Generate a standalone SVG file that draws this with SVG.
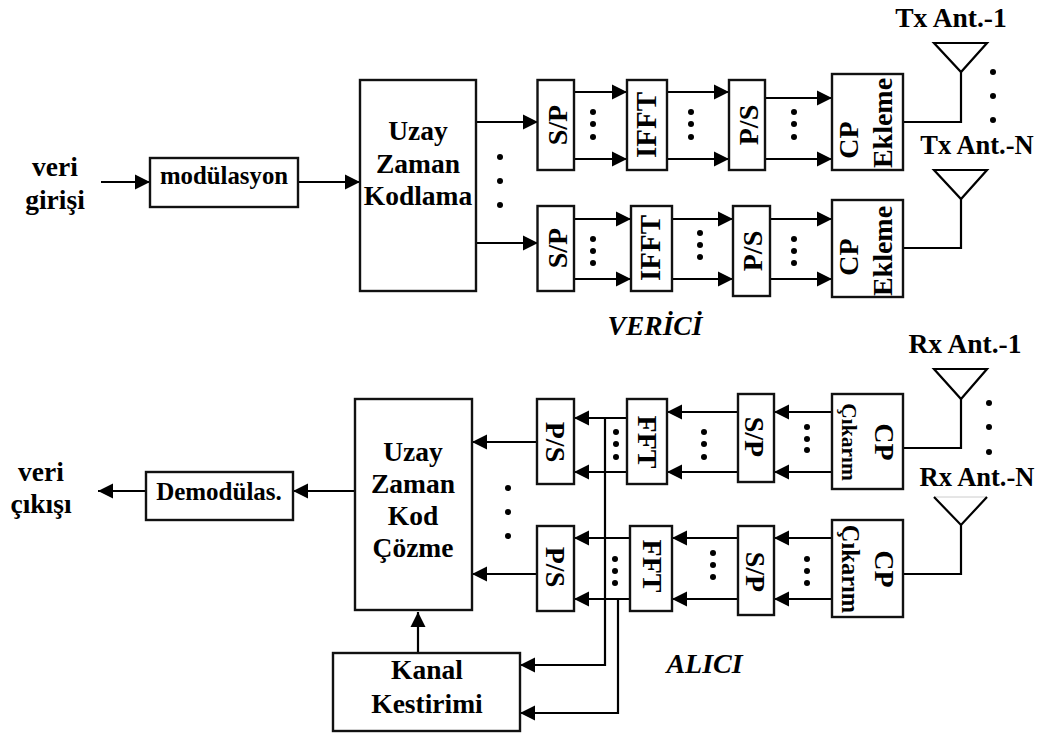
<svg xmlns="http://www.w3.org/2000/svg" width="1044" height="734" viewBox="0 0 1044 734">
<style>
text{font-family:"Liberation Serif","Times New Roman",serif;font-weight:bold;fill:#000;text-anchor:middle}
.b{fill:#fff;stroke:#111;stroke-width:2.4}
.l{fill:none;stroke:#000;stroke-width:2.2}
.a{marker-end:url(#ah)}
.t{font-size:27.500px}.r{font-size:28px}.v{font-size:27.500px}
.i{font-style:italic;font-size:27.500px}
.d{fill:#000}
</style>
<defs><marker id="ah" markerUnits="userSpaceOnUse" markerWidth="16" markerHeight="16" refX="15" refY="8" orient="auto"><path d="M0 0.500L15 8L0 15.500Z"/></marker></defs>
<rect width="1044" height="734" fill="#fff"/>
<g id="connectors">
<path class="l a" d="M101 182H150"/><path class="l a" d="M298 182H360"/>
<path class="l a" d="M476 122H538"/><path class="l a" d="M476 243H538"/>
<path class="l a" d="M574 92H627"/><path class="l a" d="M574 159H627"/><path class="l a" d="M667 92H729"/><path class="l a" d="M667 159H729"/><path class="l a" d="M765 98H832"/><path class="l a" d="M765 159H832"/>
<path class="l a" d="M574 219H631"/><path class="l a" d="M574 279H631"/><path class="l a" d="M672 219H733"/><path class="l a" d="M672 279H733"/><path class="l a" d="M770 219H832"/><path class="l a" d="M770 279H832"/>
<path class="l" d="M903 122H961V72M903 248H961V199"/>
<path class="l a" d="M832 412H774"/><path class="l a" d="M832 472H774"/><path class="l a" d="M738 412H667"/><path class="l a" d="M738 472H667"/><path class="l a" d="M627 418H574"/><path class="l a" d="M627 472H574"/>
<path class="l a" d="M832 538H774"/><path class="l a" d="M832 599H774"/><path class="l a" d="M738 538H672"/><path class="l a" d="M738 599H672"/><path class="l a" d="M630 538H574"/><path class="l a" d="M630 599H574"/>
<path class="l a" d="M537 442H472"/><path class="l a" d="M537 574H472"/>
<path class="l a" d="M355 491H293"/><path class="l a" d="M146 491H98"/>
<path class="l a" d="M605 418V665H520"/><path class="l a" d="M618 599V713H520"/><path class="l a" d="M418 653V612"/>
<path class="l" d="M903 448H961V399M903 574H961V525"/>
</g>
<g id="ant-tx1"><path class="l" d="M934 43H987L961 72Z"/><text class="t" x="951" y="27">Tx Ant.-1</text></g>
<g id="ant-txn"><path class="l" d="M934 170H987L961 199Z"/><text class="t" style="font-size:26.500px" x="977" y="154">Tx Ant.-N</text></g>
<g id="ant-rx1"><path class="l" d="M934 369H987L961 399Z"/><text class="t" x="965" y="353">Rx Ant.-1</text></g>
<g id="ant-rxn"><path d="M934 497H987" fill="none" stroke="#ccc" stroke-width="1"/><path class="l" d="M934 497L961 525L987 497"/><text class="t" style="font-size:26.500px" x="977" y="486">Rx Ant.-N</text></g>
<g id="veri-girisi"><text class="v" x="55" y="176">veri</text><text class="v" x="55" y="209">girişi</text></g>
<g id="modulasyon"><rect class="b" x="150" y="158" width="148" height="49"/><text x="224" y="184" style="font-size:24.800px">modülasyon</text></g>
<g id="uzay-kod"><rect class="b" x="360" y="80" width="116" height="211"/><text class="t" x="418" y="140">Uzay</text><text class="t" x="418" y="173">Zaman</text><text class="t" x="418" y="205">Kodlama</text></g>
<g id="tx-sp1"><rect class="b" x="537.500" y="80" width="36.500" height="90"/><text class="r" transform="translate(567 125) rotate(-90)">S/P</text></g>
<g id="tx-ifft1"><rect class="b" x="627" y="80" width="40" height="90"/><text class="r" style="font-size:29px" transform="translate(656 125) rotate(-90)">IFFT</text></g>
<g id="tx-ps1"><rect class="b" x="729" y="80" width="36" height="90"/><text class="r" transform="translate(758 125) rotate(-90)">P/S</text></g>
<g id="tx-cp1"><rect class="b" x="832" y="74" width="71" height="96"/><text class="r" transform="translate(858 140) rotate(-90)">CP</text><text class="r" transform="translate(892 123) rotate(-90)">Ekleme</text></g>
<g id="tx-sp2"><rect class="b" x="537.500" y="206" width="36.500" height="85"/><text class="r" transform="translate(567 248) rotate(-90)">S/P</text></g>
<g id="tx-ifft2"><rect class="b" x="631" y="206" width="41" height="85"/><text class="r" style="font-size:29px" transform="translate(660 248) rotate(-90)">IFFT</text></g>
<g id="tx-ps2"><rect class="b" x="733" y="206" width="37" height="90"/><text class="r" transform="translate(762 251) rotate(-90)">P/S</text></g>
<g id="tx-cp2"><rect class="b" x="832" y="200" width="71" height="97"/><text class="r" transform="translate(858 257) rotate(-90)">CP</text><text class="r" transform="translate(892 251) rotate(-90)">Ekleme</text></g>
<g id="dots" class="d">
<circle cx="593" cy="112" r="3"/><circle cx="593" cy="124" r="3"/><circle cx="593" cy="137" r="3"/>
<circle cx="691" cy="112" r="3"/><circle cx="691" cy="124" r="3"/><circle cx="691" cy="137" r="3"/>
<circle cx="794" cy="112" r="3"/><circle cx="794" cy="124" r="3"/><circle cx="794" cy="137" r="3"/>
<circle cx="593" cy="239" r="3"/><circle cx="593" cy="251" r="3"/><circle cx="593" cy="263" r="3"/>
<circle cx="700" cy="233" r="3"/><circle cx="700" cy="245" r="3"/><circle cx="700" cy="257" r="3"/>
<circle cx="794" cy="239" r="3"/><circle cx="794" cy="251" r="3"/><circle cx="794" cy="263" r="3"/>
<circle cx="500" cy="157" r="3"/><circle cx="500" cy="181" r="3"/><circle cx="500" cy="205" r="3"/>
<circle cx="993" cy="72" r="3"/><circle cx="993" cy="96" r="3"/><circle cx="993" cy="120" r="3"/>
<circle cx="616" cy="432" r="3"/><circle cx="616" cy="444" r="3"/><circle cx="616" cy="457" r="3"/>
<circle cx="704" cy="432" r="3"/><circle cx="704" cy="444" r="3"/><circle cx="704" cy="457" r="3"/>
<circle cx="807" cy="427" r="3"/><circle cx="807" cy="439" r="3"/><circle cx="807" cy="450" r="3"/>
<circle cx="615" cy="559" r="3"/><circle cx="615" cy="571" r="3"/><circle cx="615" cy="583" r="3"/>
<circle cx="713" cy="553" r="3"/><circle cx="713" cy="565" r="3"/><circle cx="713" cy="577" r="3"/>
<circle cx="807" cy="559" r="3"/><circle cx="807" cy="571" r="3"/><circle cx="807" cy="583" r="3"/>
<circle cx="508" cy="488" r="3"/><circle cx="508" cy="512" r="3"/><circle cx="508" cy="536" r="3"/>
<circle cx="989" cy="403" r="3"/><circle cx="989" cy="427" r="3"/><circle cx="989" cy="452" r="3"/>
</g>
<g id="vlabel"><text class="i" x="655" y="335">VERİCİ</text></g>
<g id="alabel"><text class="i" style="font-size:28px" x="704.500" y="673">ALICI</text></g>
<g id="rx-cp1"><rect class="b" x="832" y="394" width="71" height="95"/><text class="r" transform="translate(875 442) rotate(90)">CP</text><text style="font-size:21.500px" transform="translate(842 442) rotate(90)">Çıkarım</text></g>
<g id="rx-sp1"><rect class="b" x="738" y="394" width="36" height="88"/><text class="r" transform="translate(745 437) rotate(90)">S/P</text></g>
<g id="rx-fft1"><rect class="b" x="627" y="399" width="40" height="85"/><text class="r" transform="translate(638 442) rotate(90)">FFT</text></g>
<g id="rx-ps1"><rect class="b" x="537" y="399" width="37" height="85"/><text class="r" transform="translate(546 442) rotate(90)">P/S</text></g>
<g id="rx-cp2"><rect class="b" x="832" y="520" width="71" height="97"/><text class="r" transform="translate(875 569) rotate(90)">CP</text><text style="font-size:24.500px" transform="translate(842 569) rotate(90)">Çıkarım</text></g>
<g id="rx-sp2"><rect class="b" x="738" y="526" width="36" height="89"/><text class="r" transform="translate(746 572) rotate(90)">S/P</text></g>
<g id="rx-fft2"><rect class="b" x="630" y="526" width="42" height="85"/><text class="r" transform="translate(643 566) rotate(90)">FFT</text></g>
<g id="rx-ps2"><rect class="b" x="537" y="526" width="37" height="85"/><text class="r" transform="translate(546 567) rotate(90)">P/S</text></g>
<g id="uzay-coz"><rect class="b" x="355" y="399" width="117" height="211"/><text class="t" x="413" y="461">Uzay</text><text class="t" x="413" y="493">Zaman</text><text class="t" x="413" y="525">Kod</text><text class="t" x="413" y="557">Çözme</text></g>
<g id="demod"><rect class="b" x="146" y="472" width="147" height="48"/><text x="219" y="500" style="font-size:25px">Demodülas.</text></g>
<g id="veri-cikisi"><text class="v" x="41" y="481">veri</text><text class="v" x="41" y="513">çıkışı</text></g>
<g id="kanal"><rect class="b" x="333" y="653" width="187" height="78"/><text class="t" x="427" y="679">Kanal</text><text class="t" x="427" y="713">Kestirimi</text></g>
</svg>
